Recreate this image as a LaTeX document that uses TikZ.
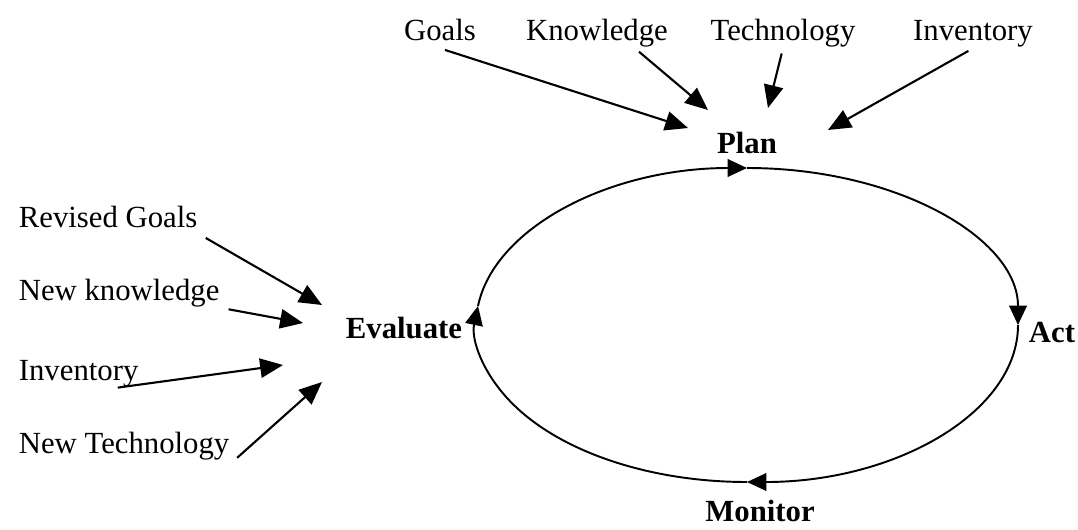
\documentclass[tikz,border=0pt]{standalone}
\usepackage{fontspec}
\setmainfont{Liberation Serif}
\usetikzlibrary{arrows.meta,calc}
\begin{document}
\begin{tikzpicture}[x=0.02cm,y=0.02cm,
        lbl/.style={font=\fontsize{17.5}{20}\selectfont,inner sep=2pt,text height=1.6ex,text depth=.5ex},
        stage/.style={font=\fontsize{17.5}{20}\selectfont\bfseries,inner sep=2pt,text height=1.6ex,text depth=.5ex},
        feed/.style={line width=1.2pt,shorten <=3pt,-{Triangle[length=13pt,width=11pt]}},
        cyc/.style={line width=1.1pt,-{Triangle[length=11pt,width=10pt]}}]
        \useasboundingbox(0,0)rectangle(1078,529);
        % the cycle
        \node[stage](plan)at(747,380){Plan};
        \node[stage](act)at(1052,191){Act};
        \node[stage,inner ysep=0pt,text depth=0pt](monitor)at(760,14){Monitor};
        \node[stage](evaluate)at(404,195){Evaluate};
        \coordinate(ctr)at(747,204);
        \coordinate(e1)at($(ctr)+(173:271 and 157)$);
        \coordinate(etop)at($(ctr)+(90:271 and 157)$);
        \coordinate(eright)at($(ctr)+(0:271 and 157)$);
        \coordinate(ebot)at($(ctr)+(-90:271 and 157)$);
        \draw[cyc](e1)arc[start angle=173,end angle=90,x radius=271,y radius=157];
        \draw[cyc](etop)arc[start angle=90,end angle=0,x radius=271,y radius=157];
        \draw[cyc](eright)arc[start angle=0,end angle=-90,x radius=271,y radius=157];
        \draw[cyc](ebot)arc[start angle=-90,end angle=-187,x radius=271,y radius=157];
        % inputs to plan
        \node[lbl](goals)at(440,493){Goals};
        \node[lbl](knowledge)at(597,493){Knowledge};
        \node[lbl](technology)at(783,493){Technology};
        \node[lbl](invtop)at(973,493){Inventory};
        \coordinate(pg)at(688,401);
        \coordinate(pk)at(708,419);
        \coordinate(pt)at(768,421);
        \coordinate(pi)at(828,399);
        \draw[feed](goals.south)--(pg);
        \draw[feed](knowledge.-18)--(pk);
        \draw[feed](technology.south)--(pt);
        \draw[feed](invtop.south)--(pi);
        % inputs to evaluate
        \node[lbl,anchor=west](revgoals)at(15,306){Revised Goals};
        \node[lbl,anchor=west](newknow)at(15,233){New knowledge};
        \node[lbl,anchor=west](invleft)at(15,153){Inventory};
        \node[lbl,anchor=west](newtech)at(15,80){New Technology};
        \coordinate(eg)at(322,224);
        \coordinate(ek)at(303,206);
        \coordinate(ei)at(283,164);
        \coordinate(et)at(322,147);
        \draw[feed](revgoals.south east)--(eg);
        \draw[feed](newknow.south east)--(ek);
        \draw[feed](invleft.-20)--(ei);
        \draw[feed](newtech.south east)--(et);
\end{tikzpicture}
\end{document}
